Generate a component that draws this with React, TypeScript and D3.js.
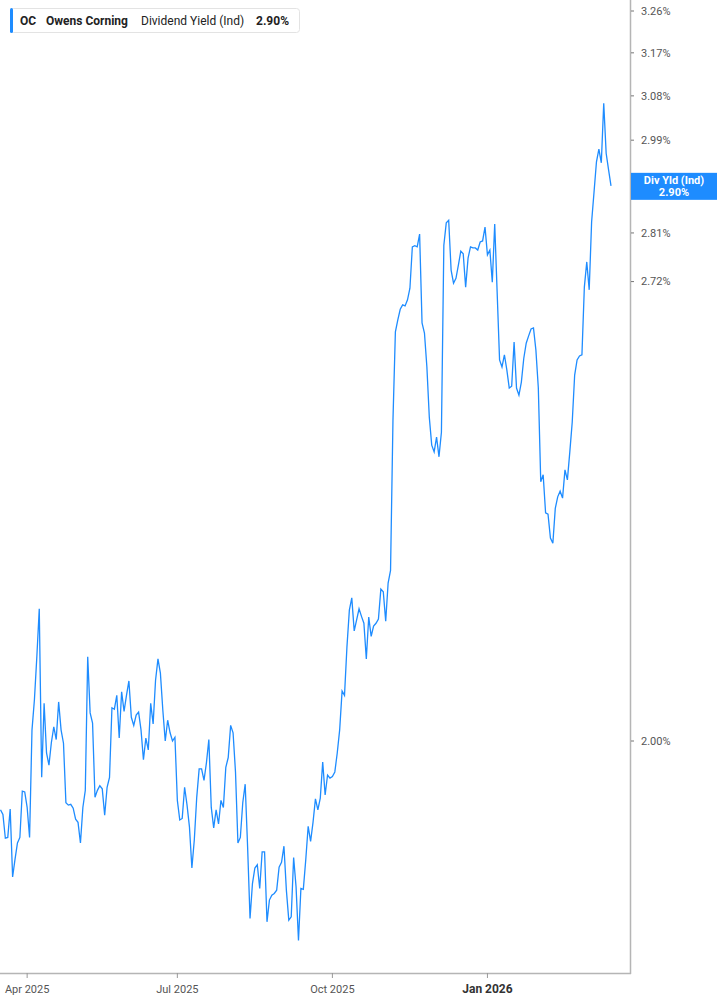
import * as d3 from 'd3'

// daily indicated dividend yield (%), one value per trading day from 2025-03-17
const yieldPct = [
  1.910, 1.904, 1.874, 1.875, 1.911, 1.826, 1.848, 1.868, 1.875, 1.934,
  1.933, 1.913, 1.875, 2.015, 2.056, 2.116, 2.185, 1.952, 2.051, 1.984,
  1.968, 1.998, 2.019, 2.002, 2.053, 2.015, 1.997, 1.919, 1.916, 1.917,
  1.912, 1.898, 1.894, 1.868, 1.913, 1.935, 2.116, 2.038, 2.024, 1.926,
  1.935, 1.941, 1.937,
  1.903, 1.939, 1.952, 2.045, 2.043, 2.062, 2.004, 2.067, 2.040, 2.062,
  2.082, 2.032, 2.021, 2.035, 2.039, 2.015, 1.975, 2.004, 1.988, 2.051,
  2.023, 2.083, 2.113, 2.093, 2.042, 2.000, 2.028, 2.011, 2.000, 2.005,
  1.922, 1.897, 1.899, 1.939, 1.916, 1.888, 1.837, 1.872, 1.926, 1.963,
  1.963,
  1.948, 1.971, 2.002, 1.913, 1.887, 1.910, 1.892, 1.922, 1.913, 1.965,
  1.978, 2.021, 2.011, 1.959, 1.868, 1.875, 1.919, 1.943, 1.863, 1.776,
  1.818, 1.837, 1.841, 1.812, 1.857, 1.857, 1.772, 1.798, 1.804, 1.806,
  1.810, 1.838, 1.844, 1.864, 1.810, 1.774, 1.778, 1.850, 1.814, 1.750,
  1.812, 1.811, 1.847, 1.889, 1.870, 1.894, 1.924, 1.910, 1.925, 1.972,
  1.929, 1.955, 1.951, 1.953, 1.959, 1.984, 2.015, 2.068, 2.062, 2.130,
  2.183, 2.201, 2.153, 2.169, 2.185, 2.174, 2.164, 2.113, 2.173, 2.145,
  2.160, 2.164, 2.170, 2.214, 2.210, 2.167, 2.223, 2.242, 2.479,
  2.630, 2.651, 2.670, 2.678, 2.676, 2.687, 2.708, 2.784, 2.786, 2.784,
  2.808, 2.646, 2.628, 2.569, 2.484, 2.438, 2.427, 2.451, 2.419, 2.459,
  2.787, 2.829, 2.834, 2.741, 2.717, 2.726, 2.750, 2.776, 2.771, 2.710,
  2.763, 2.784, 2.782, 2.782, 2.778, 2.793, 2.795, 2.821, 2.769, 2.778,
  2.719, 2.827,
  2.701, 2.581, 2.569, 2.590, 2.564, 2.533, 2.536, 2.612, 2.533, 2.521,
  2.543, 2.584, 2.610, 2.623, 2.635, 2.637, 2.598, 2.533, 2.379, 2.390,
  2.330, 2.328, 2.291, 2.283, 2.337, 2.355, 2.364, 2.353, 2.398, 2.382,
  2.427, 2.476, 2.555, 2.581, 2.588, 2.590, 2.710, 2.756, 2.705, 2.831,
  2.888, 2.947, 2.972, 2.945, 3.065, 2.964, 2.931, 2.900,
]

const firstDay = '2025-03-17'
const marketHolidays = [
  '2025-04-18', '2025-05-26', '2025-06-19', '2025-07-04', '2025-09-01',
  '2025-11-27', '2025-12-25', '2026-01-01', '2026-01-19', '2026-02-16',
]

const xTickStarts = ['2025-04-01', '2025-07-01', '2025-10-01', '2026-01-01']
const xTickLabels = ['Apr 2025', 'Jul 2025', 'Oct 2025', 'Jan 2026']
const yTicks = [3.26, 3.17, 3.08, 2.99, 2.9, 2.81, 2.72, 2.0]

const lastValue = 2.9

const W = 717
const H = 1005
const plotRight = 630
const plotBottom = 973
const blue = '#1e8cff'
const font = 'Roboto, "Noto Sans", sans-serif'

const fmt = d3.timeFormat('%Y-%m-%d')
const parse = d3.timeParse('%Y-%m-%d')

function tradingDates(n: number) {
  const out: string[] = []
  let d = parse(firstDay) as Date
  while (out.length < n) {
    const s = fmt(d)
    const wd = d.getDay()
    if (wd !== 0 && wd !== 6 && !marketHolidays.includes(s)) out.push(s)
    d = d3.timeDay.offset(d, 1)
  }
  return out
}

export default function App() {
  const dates = tradingDates(yieldPct.length)
  const data = dates.map((d, i) => ({ date: d, v: yieldPct[i] }))

  const x = d3.scalePoint<string>().domain(dates).range([0.5, 611])
  const y = d3.scaleLog().domain([2.0, 3.26]).range([741, 11])

  const line = d3
    .line<{ date: string; v: number }>()
    .x(d => x(d.date) as number)
    .y(d => y(d.v))

  const xTicks = xTickStarts.map((s, i) => {
    const d = dates.find(t => t >= s) as string
    return { pos: x(d) as number, label: xTickLabels[i], bold: i === 3 }
  })

  const tagY = y(lastValue)

  return (
    <svg
      width={W}
      height={H}
      style={{ position: 'absolute', left: 0, top: 0, display: 'block', background: '#fff' }}
      fontFamily={font}
    >
      <defs>
        <clipPath id="plot">
          <rect x={0} y={0} width={plotRight} height={plotBottom} />
        </clipPath>
      </defs>

      <path d={line(data) ?? ''} fill="none" stroke={blue} strokeWidth={1.3} clipPath="url(#plot)" />

      {/* axes */}
      <line x1={plotRight + 0.5} x2={plotRight + 0.5} y1={0} y2={plotBottom + 1} stroke="#b5b5b5" strokeWidth={1.5} />
      <line x1={0} x2={plotRight + 1} y1={plotBottom + 0.5} y2={plotBottom + 0.5} stroke="#b5b5b5" strokeWidth={1.5} />

      {yTicks.map(t => (
        <g key={t} transform={`translate(0,${y(t)})`}>
          <line x1={plotRight + 1} x2={plotRight + 4} stroke="#777" strokeWidth={1} />
          {/* the tick under the last-value tag is covered by it */}
          {t !== lastValue && (
            <text x={641} dy="0.35em" fontSize={11} fill="#555">
              {t.toFixed(2)}%
            </text>
          )}
        </g>
      ))}

      {xTicks.map(t => (
        <g key={t.label} transform={`translate(${t.pos},0)`}>
          <line y1={plotBottom} y2={plotBottom + 5} stroke="#999" strokeWidth={1} />
          <text
            y={993}
            textAnchor="middle"
            fontSize={t.bold ? 12 : 11}
            fontWeight={t.bold ? 700 : 400}
            fill={t.bold ? '#333' : '#555'}
          >
            {t.label}
          </text>
        </g>
      ))}

      {/* last value tag */}
      <rect x={plotRight + 1} y={tagY - 13} width={W - plotRight - 1} height={27} fill={blue} />
      <text x={674} y={tagY - 1.5} textAnchor="middle" fontSize={11} fontWeight={700} fill="#fff">
        Div Yld (Ind)
      </text>
      <text x={674} y={tagY + 10} textAnchor="middle" fontSize={11} fontWeight={700} fill="#fff">
        {lastValue.toFixed(2)}%
      </text>

      {/* legend */}
      <rect x={10.5} y={8.5} width={289} height={24} rx={3} fill="#fff" stroke="#e3e3e3" />
      <rect x={10} y={8} width={3} height={25} rx={1.5} fill={blue} />
      <text y={25} fontSize={12} fill="#222">
        <tspan x={20} fontWeight={700}>OC</tspan>
        <tspan x={46} fontWeight={700}>Owens Corning</tspan>
        <tspan x={141}>Dividend Yield (Ind)</tspan>
        <tspan x={256} fontWeight={700}>{lastValue.toFixed(2)}%</tspan>
      </text>
    </svg>
  )
}
